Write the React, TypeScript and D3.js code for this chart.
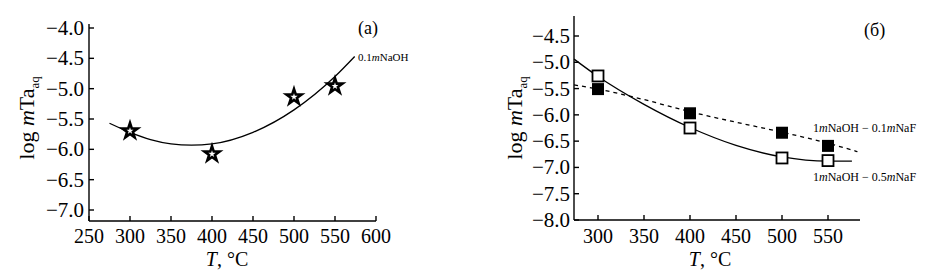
import React from "react";
import * as d3 from "d3";

// Panel (a)
const aTicksX = [250, 300, 350, 400, 450, 500, 550, 600];
const aTicksY = [-4.0, -4.5, -5.0, -5.5, -6.0, -6.5, -7.0];
const aPointsT = [300, 400, 500, 550];
const aPointsY = [-5.68, -6.06, -5.12, -4.94];
const aCurveT = [275, 300, 325, 350, 375, 400, 450, 500, 550, 574];
const aCurveY = [-5.57, -5.72, -5.84, -5.91, -5.93, -5.91, -5.72, -5.35, -4.8, -4.47];

// Panel (б)
const bTicksX = [300, 350, 400, 450, 500, 550];
const bTicksY = [-4.5, -5.0, -5.5, -6.0, -6.5, -7.0, -7.5, -8.0];
const bPointsT = [300, 400, 500, 550];
const bOpenY = [-5.26, -6.25, -6.82, -6.87];
const bFilledY = [-5.51, -5.97, -6.34, -6.59];
const bSolidT = [274, 300, 350, 400, 450, 500, 550, 576];
const bSolidY = [-4.94, -5.27, -5.8, -6.24, -6.58, -6.8, -6.88, -6.88];
const bDashT = [274, 300, 350, 400, 450, 500, 550, 582];
const bDashY = [-5.43, -5.51, -5.71, -5.94, -6.14, -6.33, -6.54, -6.7];

const FONT = "Liberation Serif, Times New Roman, serif";
const fs = (size: number, extra: React.CSSProperties = {}): React.CSSProperties => ({
  fontFamily: FONT,
  fontSize: size,
  ...extra,
});

function YLabel({ x, y }: { x: number; y: number }) {
  return (
    <text transform={`translate(${x},${y}) rotate(-90)`} textAnchor="middle" style={fs(22)}>
      log <tspan style={{ fontStyle: "italic" }}>m</tspan>Ta
      <tspan style={{ fontSize: 13 }} dy={5}>
        aq
      </tspan>
    </text>
  );
}

function XLabel({ x, y }: { x: number; y: number }) {
  return (
    <text x={x} y={y} textAnchor="middle" style={fs(20)}>
      <tspan style={{ fontStyle: "italic" }}>T</tspan>, °C
    </text>
  );
}

export default function App() {
  // panel a scales
  const ax = d3.scaleLinear().domain([250, 600]).range([89, 376]);
  const ay = d3.scaleLinear().domain([-4.0, -7.0]).range([28, 210]);
  const aBottom = 221;
  const aTop = 24;

  // panel b scales
  const bx = d3.scaleLinear().domain([300, 550]).range([598, 828]);
  const by = d3.scaleLinear().domain([-4.5, -8.0]).range([36, 220]);
  const bLeft = 574;
  const bRight = 860;
  const bBottom = 220;
  const bTop = 16;

  const aLine = d3
    .line<number>()
    .x((_, i) => ax(aCurveT[i]))
    .y((d) => ay(d))
    .curve(d3.curveMonotoneX);
  const bSolid = d3
    .line<number>()
    .x((_, i) => bx(bSolidT[i]))
    .y((d) => by(d))
    .curve(d3.curveMonotoneX);
  const bDash = d3
    .line<number>()
    .x((_, i) => bx(bDashT[i]))
    .y((d) => by(d))
    .curve(d3.curveMonotoneX);

  const star = d3.symbol(d3.symbolStar, 70)()!;
  const tickLen = 5;

  return (
    <svg width={933} height={264} style={{ display: "block" }}>
      <g transform="translate(-8,-8)">
        <rect x={0} y={0} width={949} height={280} fill="white" />
        {/* Panel (a) */}
        <line x1={ax(250)} x2={ax(250)} y1={aTop} y2={aBottom} stroke="black" strokeWidth={1.4} />
        <line x1={ax(250)} x2={ax(600)} y1={aBottom} y2={aBottom} stroke="black" strokeWidth={1.4} />
        {aTicksY.map((t) => (
          <g key={"ay" + t}>
            <line x1={ax(250)} x2={ax(250) + tickLen} y1={ay(t)} y2={ay(t)} stroke="black" strokeWidth={1.4} />
            <text x={ax(250) - 5} y={ay(t) + 7} textAnchor="end" style={fs(21)}>
              {"\u2212" + Math.abs(t).toFixed(1)}
            </text>
          </g>
        ))}
        {aTicksX.map((t) => (
          <g key={"ax" + t}>
            <line x1={ax(t)} x2={ax(t)} y1={aBottom} y2={aBottom - tickLen} stroke="black" strokeWidth={1.4} />
            <text x={ax(t)} y={243} textAnchor="middle" style={fs(20)}>
              {t}
            </text>
          </g>
        ))}
        <path d={aLine(aCurveY)!} fill="none" stroke="black" strokeWidth={1.3} />
        {aPointsT.map((t, i) => (
          <path
            key={"as" + t}
            d={star}
            transform={`translate(${ax(t)},${ay(aPointsY[i]) + 1})`}
            fill="white"
            stroke="black"
            strokeWidth={2.6}
            strokeLinejoin="miter"
          />
        ))}
        <text x={358} y={61} style={fs(11)}>
          0.1<tspan style={{ fontStyle: "italic" }}>m</tspan>NaOH
        </text>
        <text x={358} y={34} style={fs(18)}>
          (a)
        </text>
        <YLabel x={34} y={118} />
        <XLabel x={227} y={266} />

        {/* Panel (б) */}
        <line x1={bLeft} x2={bLeft} y1={bTop} y2={bBottom} stroke="black" strokeWidth={1.4} />
        <line x1={bLeft} x2={bRight} y1={bBottom} y2={bBottom} stroke="black" strokeWidth={1.4} />
        {bTicksY.map((t) => (
          <g key={"by" + t}>
            <line x1={bLeft} x2={bLeft + tickLen} y1={by(t)} y2={by(t)} stroke="black" strokeWidth={1.4} />
            <text x={bLeft - 4} y={by(t) + 7} textAnchor="end" style={fs(21)}>
              {"\u2212" + Math.abs(t).toFixed(1)}
            </text>
          </g>
        ))}
        {bTicksX.map((t) => (
          <g key={"bx" + t}>
            <line x1={bx(t)} x2={bx(t)} y1={bBottom} y2={bBottom - tickLen} stroke="black" strokeWidth={1.4} />
            <text x={bx(t)} y={243} textAnchor="middle" style={fs(20)}>
              {t}
            </text>
          </g>
        ))}
        <path d={bSolid(bSolidY)!} fill="none" stroke="black" strokeWidth={1.3} />
        <path d={bDash(bDashY)!} fill="none" stroke="black" strokeWidth={1.3} strokeDasharray="4,4" />
        {bPointsT.map((t, i) => (
          <rect key={"bf" + t} x={bx(t) - 6} y={by(bFilledY[i]) - 6} width={12} height={12} fill="black" />
        ))}
        {bPointsT.map((t, i) => (
          <rect
            key={"bo" + t}
            x={bx(t) - 5.5}
            y={by(bOpenY[i]) - 5.5}
            width={11}
            height={11}
            fill="white"
            stroke="black"
            strokeWidth={1.8}
          />
        ))}
        <text x={813} y={132} style={fs(12)}>
          1<tspan style={{ fontStyle: "italic" }}>m</tspan>NaOH − 0.1<tspan style={{ fontStyle: "italic" }}>m</tspan>NaF
        </text>
        <text x={813} y={181} style={fs(12)}>
          1<tspan style={{ fontStyle: "italic" }}>m</tspan>NaOH − 0.5<tspan style={{ fontStyle: "italic" }}>m</tspan>NaF
        </text>
        <text x={864} y={36} style={fs(18)}>
          (б)
        </text>
        <YLabel x={522} y={118} />
        <XLabel x={710} y={266} />
      </g>
    </svg>
  );
}
